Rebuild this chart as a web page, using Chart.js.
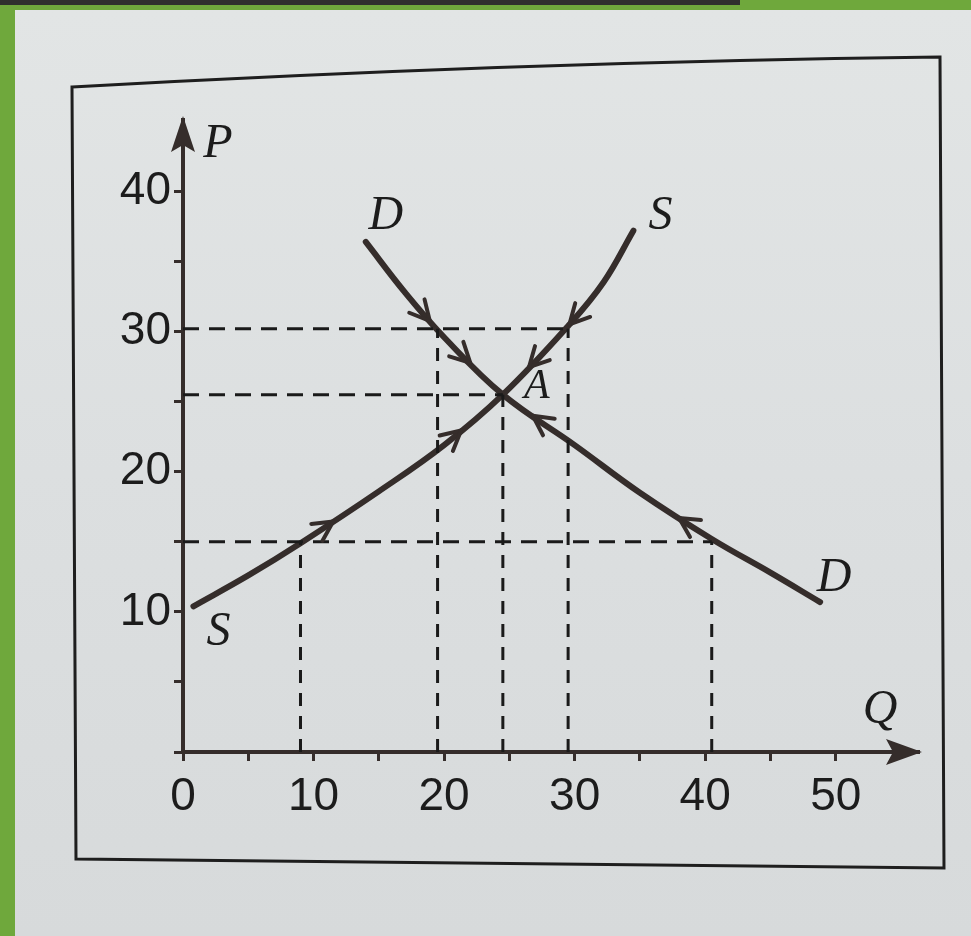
<!DOCTYPE html>
<html>
<head>
<meta charset="utf-8">
<script src="https://cdn.jsdelivr.net/npm/chart.js@4.4.1/dist/chart.umd.min.js"></script>
<style>
  html, body { margin: 0; padding: 0; }
  body { width: 971px; height: 936px; overflow: hidden; background: #6fa83c; position: relative; }
  #topbar { position: absolute; left: 0; top: 0; width: 740px; height: 5px; background: #2f302e; }
  #paper { position: absolute; left: 15px; top: 10px; right: 0; bottom: 0;
           background: linear-gradient(180deg, #e2e5e5 0%, #dcdfe0 50%, #d7dadb 100%); }
  #chart { position: absolute; left: 0; top: 0; }
</style>
</head>
<body>
<div id="topbar"></div>
<div id="paper"></div>
<canvas id="chart" width="971" height="936"></canvas>
<script>
// supply curve S (quantity Q, price P)
const supplyQ = [0.8, 5, 9, 15, 20, 24.5, 29.5, 32.2, 34.5];
const supplyP = [10.4, 12.6, 14.9, 18.6, 21.9, 25.5, 30.4, 33.5, 37.2];

// demand curve D
const demandQ = [14, 17, 20, 24.5, 30, 35, 40.5, 45, 48.8];
const demandP = [36.4, 32.8, 29.6, 25.5, 21.9, 18.5, 15.2, 12.8, 10.7];

// equilibrium point A
const eqQ = 24.5;
const eqP = 25.5;

// dashed guide lines
const hGuideP = [30.2, 25.5, 15];
const hGuideQ = [29.5, 24.5, 40.5];
const vGuideQ = [9, 19.5, 24.5, 29.5, 40.5];
const vGuideP = [15, 30.2, 25.5, 30.2, 15];

// where the little arrows sit on each curve (Q values)
const supplyArrowQ = [11.5, 21.3, 26.5, 29.6];
const demandArrowQ = [18.9, 22, 26.8, 38];

const ink = '#352d2b';
const dashInk = '#1a1a1a';

function toPts(xs, ys) {
    return xs.map((x, i) => ({ x: x, y: ys[i] }));
}

function interp(xs, ys, q) { // linear lookup on the data arrays
    for (let i = 0; i < xs.length - 1; i++) {
        if (q >= xs[i] && q <= xs[i + 1]) {
            const t = (q - xs[i]) / (xs[i + 1] - xs[i]);
            return ys[i] + t * (ys[i + 1] - ys[i]);
        }
    }
    return ys[ys.length - 1];
}

const datasets = [];

hGuideP.forEach((p, i) => {
    datasets.push({ data: [{ x: 0, y: p }, { x: hGuideQ[i], y: p }], borderColor: dashInk, borderWidth: 3, borderDash: [16, 10], pointRadius: 0, showLine: true });
});
vGuideQ.forEach((q, i) => {
    datasets.push({ data: [{ x: q, y: 0 }, { x: q, y: vGuideP[i] }], borderColor: dashInk, borderWidth: 3, borderDash: [13, 10], pointRadius: 0, showLine: true });
});

datasets.push({ label: 'S', data: toPts(supplyQ, supplyP), borderColor: ink, borderWidth: 6, pointRadius: 0, showLine: true, tension: 0.4, borderCapStyle: 'round' });
datasets.push({ label: 'D', data: toPts(demandQ, demandP), borderColor: ink, borderWidth: 6, pointRadius: 0, showLine: true, tension: 0.4, borderCapStyle: 'round' });

const decorPlugin = {
    id: 'decor',
    beforeDraw(chart) { // the box round the figure
        const ctx = chart.ctx;
        ctx.save();
        ctx.strokeStyle = '#1e1e1e';
        ctx.lineWidth = 3;
        ctx.beginPath();
        ctx.moveTo(72, 87);
        ctx.quadraticCurveTo(520, 62, 940, 57);
        ctx.lineTo(944, 868);
        ctx.lineTo(76, 859);
        ctx.closePath();
        ctx.stroke();
        ctx.restore();
    },
    afterDatasetsDraw(chart) {
        const ctx = chart.ctx;
        const xs = chart.scales.x, ys = chart.scales.y;
        const ax = xs.getPixelForValue(eqQ), ay = ys.getPixelForValue(eqP);
        ctx.save();
        ctx.strokeStyle = ink;
        ctx.fillStyle = ink;
        ctx.lineWidth = 4;
        ctx.lineCap = 'round';

        // chevrons pointing towards A
        function chevrons(qs, cq, cp) {
            qs.forEach(q => {
                const px = xs.getPixelForValue(q), py = ys.getPixelForValue(interp(cq, cp, q));
                const dir = q < eqQ ? 0.6 : -0.6;
                const nx = xs.getPixelForValue(q + dir), ny = ys.getPixelForValue(interp(cq, cp, q + dir));
                const ang = Math.atan2(ny - py, nx - px);
                [0.48, -0.48].forEach(s => {
                    ctx.beginPath();
                    ctx.moveTo(px, py);
                    ctx.lineTo(px - 22 * Math.cos(ang + s), py - 22 * Math.sin(ang + s));
                    ctx.stroke();
                });
            });
        }
        chevrons(supplyArrowQ, supplyQ, supplyP);
        chevrons(demandArrowQ, demandQ, demandP);

        // axis arrowheads
        const x0 = xs.left, y0 = ys.bottom;
        ctx.beginPath();
        ctx.moveTo(xs.right + 4, y0);
        ctx.lineTo(xs.right - 32, y0 - 13);
        ctx.lineTo(xs.right - 25, y0);
        ctx.lineTo(xs.right - 32, y0 + 13);
        ctx.closePath();
        ctx.fill();
        ctx.beginPath();
        ctx.moveTo(x0, ys.top - 4);
        ctx.lineTo(x0 - 12, ys.top + 32);
        ctx.lineTo(x0, ys.top + 25);
        ctx.lineTo(x0 + 12, ys.top + 32);
        ctx.closePath();
        ctx.fill();

        // letters
        ctx.fillStyle = '#1c1c1c';
        ctx.textAlign = 'center';
        ctx.textBaseline = 'middle';
        ctx.font = 'italic 48px "Liberation Serif", "DejaVu Serif", serif';
        ctx.fillText('P', x0 + 35, ys.top + 24);
        ctx.fillText('Q', xs.right - 38, y0 - 42);
        const sEnd = supplyQ.length - 1, dEnd = demandQ.length - 1;
        ctx.fillText('S', xs.getPixelForValue(supplyQ[0]) + 25, ys.getPixelForValue(supplyP[0]) + 26);
        ctx.fillText('S', xs.getPixelForValue(supplyQ[sEnd]) + 27, ys.getPixelForValue(supplyP[sEnd]) - 14);
        ctx.fillText('D', xs.getPixelForValue(demandQ[0]) + 20, ys.getPixelForValue(demandP[0]) - 26);
        ctx.fillText('D', xs.getPixelForValue(demandQ[dEnd]) + 14, ys.getPixelForValue(demandP[dEnd]) - 24);
        ctx.font = 'italic 42px "Liberation Serif", "DejaVu Serif", serif';
        ctx.fillText('A', ax + 34, ay - 8);
        ctx.restore();
    }
};

new Chart(document.getElementById('chart'), {
    type: 'scatter',
    data: { datasets: datasets },
    options: {
        responsive: false,
        animation: false,
        events: [],
        layout: { padding: { left: 0, top: 120, right: 53, bottom: 0 } },
        plugins: { legend: { display: false }, tooltip: { enabled: false } },
        scales: {
            x: {
                type: 'linear', min: 0, max: 56.3,
                afterFit: s => { s.height = 184; },
                border: { display: true, color: ink, width: 4 },
                grid: { drawOnChartArea: false, drawTicks: true, tickLength: 9, color: ink, lineWidth: 3 },
                ticks: {
                    stepSize: 5, padding: 9, color: '#1c1c1c',
                    font: { family: '"Liberation Sans", Arial, sans-serif', size: 46 },
                    maxRotation: 0, autoSkip: false,
                    callback: v => v > 50 ? null : (v % 10 === 0 ? String(v) : '')
                }
            },
            y: {
                type: 'linear', min: 0, max: 45.1,
                afterFit: s => { s.width = 183; },
                border: { display: true, color: ink, width: 4 },
                grid: { drawOnChartArea: false, drawTicks: true, tickLength: 9, color: ink, lineWidth: 3 },
                ticks: {
                    stepSize: 5, padding: 3, color: '#1c1c1c',
                    font: { family: '"Liberation Sans", Arial, sans-serif', size: 46 },
                    autoSkip: false,
                    callback: v => v > 40 ? null : (v % 10 === 0 && v > 0 ? String(v) : '')
                }
            }
        }
    },
    plugins: [decorPlugin]
});
</script>
</body>
</html>
